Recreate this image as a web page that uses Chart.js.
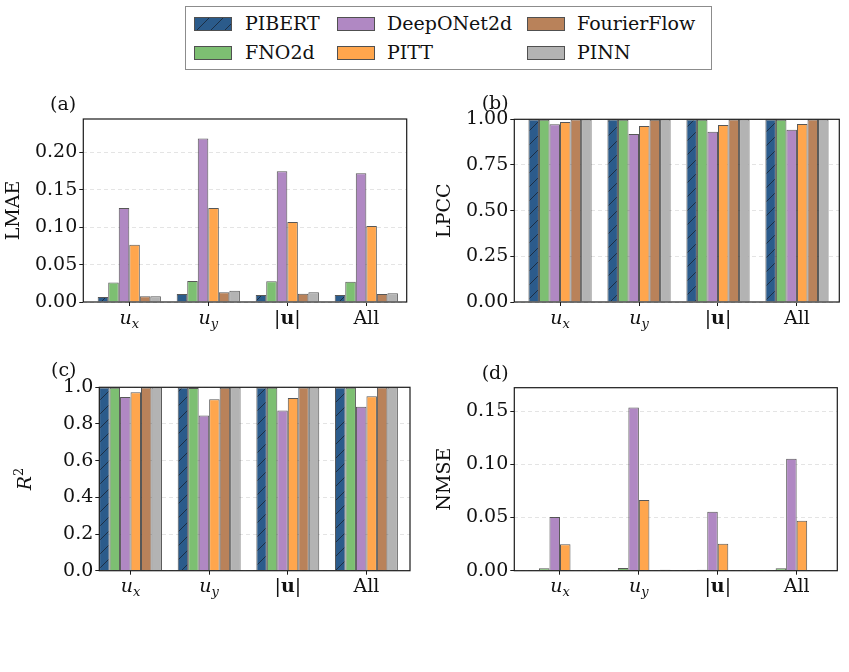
<!DOCTYPE html>
<html>
<head>
<meta charset="utf-8">
<script src="https://cdn.jsdelivr.net/npm/chart.js@4.4.1/dist/chart.umd.min.js"></script>
<style>
  html, body { margin: 0; padding: 0; background: #fff; }
  #fig { position: relative; width: 849px; height: 672px; overflow: hidden; font-family: 'DejaVu Serif', serif; }
  #fig canvas { position: absolute; }
  #legend { position: absolute; left: 185px; top: 6px; width: 527px; height: 64px; border: 1px solid #8c8c8c; box-sizing: border-box; background: #fff; }
  .lg-text { position: absolute; font-size: 19px; line-height: 19px; color: #111; white-space: nowrap; font-family: 'DejaVu Serif', serif; }
  .lg-swatch { position: absolute; width: 38px; height: 14px; border: 1px solid #505050; box-sizing: border-box; }
</style>
</head>
<body>
<div id="fig">
  <div id="legend"></div>
  <canvas id="panelA"></canvas>
  <canvas id="panelB"></canvas>
  <canvas id="panelC"></canvas>
  <canvas id="panelD"></canvas>
</div>
<script>
// categories on the x axis ("_" = subscript, "|..|" = bold vector norm)
const categories = ['u_x', 'u_y', '|u|', 'All'];
const models = ['PIBERT', 'FNO2d', 'DeepONet2d', 'PITT', 'FourierFlow', 'PINN'];
const modelColors = ['#2b5b8b', '#7dbf72', '#b088c3', '#ffa64d', '#b9825a', '#b3b3b3'];

// one row per model, columns follow categories
const lmaeValues = [
	[0.0067, 0.0107, 0.0094, 0.0094],
	[0.0260, 0.0280, 0.0277, 0.0272],
	[0.1256, 0.2187, 0.1746, 0.1720],
	[0.0766, 0.1256, 0.1069, 0.1015],
	[0.0078, 0.0130, 0.0110, 0.0107],
	[0.0078, 0.0151, 0.0130, 0.0116]
];
const lpccValues = [
	[0.9995, 0.9995, 0.9995, 0.9995],
	[0.998, 0.997, 0.997, 0.997],
	[0.9725, 0.919, 0.932, 0.943],
	[0.985, 0.963, 0.969, 0.974],
	[0.999, 0.998, 0.999, 0.999],
	[0.999, 0.999, 0.999, 0.999]
];
const r2Values = [
	[0.999, 0.999, 0.999, 0.999],
	[0.998, 0.996, 0.997, 0.997],
	[0.947, 0.846, 0.873, 0.894],
	[0.973, 0.935, 0.941, 0.951],
	[0.999, 0.998, 0.999, 0.999],
	[0.999, 0.999, 0.999, 0.999]
];
const nmseValues = [
	[0.0002, 0.0002, 0.0002, 0.0002],
	[0.0022, 0.0025, 0.0010, 0.0022],
	[0.0504, 0.1535, 0.0555, 0.1052],
	[0.0248, 0.0664, 0.0254, 0.0470],
	[0.0002, 0.0004, 0.0003, 0.0003],
	[0.0003, 0.0010, 0.0003, 0.0005]
];

const lmaeTicks = [0, 0.05, 0.10, 0.15, 0.20];
const lpccTicks = [0, 0.25, 0.50, 0.75, 1.00];
const r2Ticks = [0, 0.2, 0.4, 0.6, 0.8, 1.0];
const nmseTicks = [0, 0.05, 0.10, 0.15];

const FONT = "'DejaVu Serif', serif";
const FS = 19;
const TEXT = '#111';
Chart.defaults.font.family = FONT;
Chart.defaults.font.size = FS;
Chart.defaults.color = TEXT;

function hatchCanvas(color) {
	const s = 14;
	const c = document.createElement('canvas');
	c.width = s; c.height = s;
	const g = c.getContext('2d');
	g.fillStyle = color;
	g.fillRect(0, 0, s, s);
	g.strokeStyle = 'rgba(25,35,50,0.8)';
	g.lineWidth = 1;
	g.beginPath();
	g.moveTo(0, s); g.lineTo(s, 0);
	g.moveTo(-2, 2); g.lineTo(2, -2);
	g.moveTo(s - 2, s + 2); g.lineTo(s + 2, s - 2);
	g.stroke();
	return c;
}

// split "u_x", "R^2", "|u|", "All" into styled runs (mathtext look)
function mathParts(label) {
	const normal = `${FS}px ${FONT}`;
	const small = Math.round(FS * 0.7);
	if (label.includes('_')) {
		const [b, s] = label.split('_');
		return [{ t: b, f: `italic ${FS}px ${FONT}`, dy: 0 }, { t: s, f: `italic ${small}px ${FONT}`, dy: 4 }];
	}
	if (label.includes('^')) {
		const [b, s] = label.split('^');
		return [{ t: b, f: `italic ${FS}px ${FONT}`, dy: 0 }, { t: s, f: `${small}px ${FONT}`, dy: -8 }];
	}
	if (label.startsWith('|')) {
		return [{ t: '|', f: normal, dy: 0 }, { t: label.slice(1, -1), f: `bold ${FS}px ${FONT}`, dy: 0 }, { t: '|', f: normal, dy: 0 }];
	}
	return [{ t: label, f: normal, dy: 0 }];
}

// draws the runs centred on (cx, baseline) in a frame rotated by rot
function drawMath(ctx, label, cx, baseline, rot) {
	const parts = mathParts(label);
	ctx.save();
	ctx.translate(cx, baseline);
	ctx.rotate(rot || 0);
	ctx.fillStyle = TEXT;
	ctx.textBaseline = 'alphabetic';
	ctx.textAlign = 'left';
	let total = 0;
	parts.forEach(p => { ctx.font = p.f; p.w = ctx.measureText(p.t).width; total += p.w; });
	let x = -total / 2;
	parts.forEach(p => { ctx.font = p.f; ctx.fillText(p.t, x, p.dy); x += p.w; });
	ctx.restore();
}

const decorPlugin = {
	id: 'decor',
	afterDatasetsDraw(chart) {
		const { ctx, chartArea: a } = chart;
		ctx.save();
		ctx.strokeStyle = '#1a1a1a';
		ctx.lineWidth = 1.2;
		ctx.strokeRect(a.left, a.top, a.right - a.left, a.bottom - a.top);
		ctx.restore();
	},
	afterDraw(chart, args, opts) {
		const { ctx, chartArea: a } = chart;
		const xs = chart.scales.x;
		categories.forEach((c, i) => drawMath(ctx, c, xs.getPixelForValue(i), a.bottom + 21.5, 0));
		if (opts.mathTitle) {
			drawMath(ctx, opts.mathTitle, opts.titleX, (a.top + a.bottom) / 2, -Math.PI / 2);
		}
		ctx.save();
		ctx.font = `${FS}px ${FONT}`;
		ctx.fillStyle = TEXT;
		ctx.textBaseline = 'alphabetic';
		ctx.fillText(opts.label, opts.lx, opts.ly);
		ctx.restore();
	}
};

function makePanel(id, box, cfg) {
	const canvas = document.getElementById(id);
	canvas.width = box.w;
	canvas.height = box.h;
	canvas.style.left = box.x + 'px';
	canvas.style.top = box.y + 'px';
	const ctx = canvas.getContext('2d');
	const hatch = ctx.createPattern(hatchCanvas(modelColors[0]), 'repeat');
	const isMath = cfg.title.includes('^');

	return new Chart(ctx, {
		type: 'bar',
		data: {
			datasets: models.map((name, i) => ({
				label: name,
				data: cfg.values[i].map((v, j) => ({ x: j, y: v })),
				backgroundColor: i === 0 ? hatch : modelColors[i],
				borderColor: 'rgba(45,45,45,0.8)',
				borderWidth: 1,
				borderSkipped: 'start',
				categoryPercentage: 0.8,
				barPercentage: 1.0
			}))
		},
		options: {
			responsive: false,
			animation: false,
			events: [],
			layout: { padding: { left: 0, top: box.padTop, right: box.padRight, bottom: 0 } },
			plugins: {
				legend: { display: false },
				tooltip: { enabled: false },
				decor: { label: cfg.label, lx: box.lx, ly: box.ly, mathTitle: isMath ? cfg.title : null, titleX: box.titleX }
			},
			scales: {
				x: {
					type: 'linear',
					min: cfg.xMin,
					max: cfg.xMax,
					offset: false,
					afterBuildTicks: ax => { ax.ticks = categories.map((c, i) => ({ value: i })); },
					afterFit: ax => { ax.height = box.xh; },
					ticks: { callback: () => '', autoSkip: false },
					grid: { offset: false, drawOnChartArea: false, drawTicks: true, tickLength: 4, tickColor: '#1a1a1a', tickWidth: 1 },
					border: { display: false }
				},
				y: {
					min: 0,
					max: cfg.yMax,
					afterBuildTicks: ax => { ax.ticks = cfg.ticks.map(v => ({ value: v })); },
					afterFit: ax => { ax.width = box.yw; },
					ticks: { callback: v => v.toFixed(cfg.dec), padding: 2, color: TEXT, font: { size: FS } },
					grid: { color: '#e4e4e4', lineWidth: 1, tickLength: 4, tickColor: '#1a1a1a', tickWidth: 1 },
					border: { display: false, dash: [4, 3] },
					title: {
						display: !isMath,
						text: cfg.title,
						color: TEXT,
						padding: { top: box.titlePad, bottom: 0 },
						font: { size: FS }
					}
				}
			}
		},
		plugins: [decorPlugin]
	});
}

makePanel('panelA',
	{ x: 0, y: 95, w: 420, h: 240, yw: 83.3, padTop: 24, padRight: 13.3, xh: 33, titlePad: 3, lx: 50, ly: 15.2 },
	{ values: lmaeValues, ticks: lmaeTicks, dec: 2, yMax: 0.2446, xMin: -0.582, xMax: 3.511, title: 'LMAE', label: '(a)' });
makePanel('panelB',
	{ x: 425, y: 95, w: 424, h: 240, yw: 89.3, padTop: 24.3, padRight: 9.7, xh: 33, titlePad: 8.6, lx: 56.7, ly: 14.2 },
	{ values: lpccValues, ticks: lpccTicks, dec: 2, yMax: 1.0, xMin: -0.579, xMax: 3.536, title: 'LPCC', label: '(b)' });
makePanel('panelC',
	{ x: 0, y: 360, w: 420, h: 245, yw: 99.3, padTop: 27.3, padRight: 10, xh: 34.3, titleX: 31, lx: 51, ly: 16 },
	{ values: r2Values, ticks: r2Ticks, dec: 1, yMax: 1.0, xMin: -0.397, xMax: 3.554, title: 'R^2', label: '(c)' });
makePanel('panelD',
	{ x: 425, y: 360, w: 424, h: 245, yw: 89.3, padTop: 27.7, padRight: 11.7, xh: 34.3, titlePad: 8.6, lx: 56.7, ly: 19.2 },
	{ values: nmseValues, ticks: nmseTicks, dec: 2, yMax: 0.172, xMin: -0.579, xMax: 3.515, title: 'NMSE', label: '(d)' });

// legend: 3 columns filled top-to-bottom, like the original
function buildLegend() {
	const legend = document.getElementById('legend');
	const colSwatch = [8, 151, 341];
	const colText = [59, 201, 391];
	const rowMid = [17, 45.5];
	const hatchUrl = hatchCanvas(modelColors[0]).toDataURL();
	models.forEach((name, i) => {
		const col = Math.floor(i / 2), row = i % 2;
		const sw = document.createElement('div');
		sw.className = 'lg-swatch';
		sw.style.left = colSwatch[col] + 'px';
		sw.style.top = (rowMid[row] - 7) + 'px';
		sw.style.background = i === 0 ? `url(${hatchUrl})` : modelColors[i];
		legend.appendChild(sw);
		const tx = document.createElement('div');
		tx.className = 'lg-text';
		tx.style.left = colText[col] + 'px';
		tx.style.top = (rowMid[row] - 10) + 'px';
		tx.textContent = name;
		legend.appendChild(tx);
	});
}
buildLegend();
</script>
</body>
</html>
